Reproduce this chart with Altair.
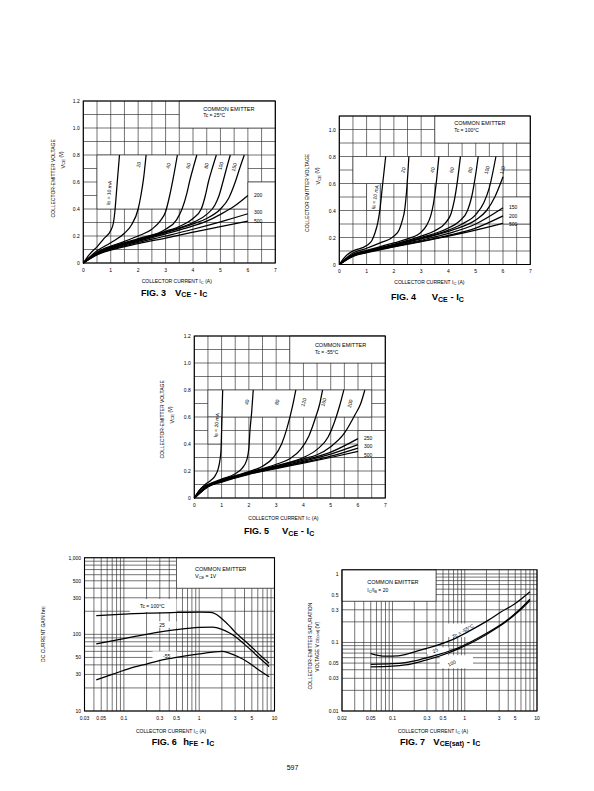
import altair as alt
import pandas as pd

FONT = "Liberation Sans"
GRID = "#2a2a2a"
GW = 0.65
LW = 1.25
NOS = "transparent"

# ---------------- FIG.3  VCE - IC  (Tc = 25 C) ----------------
F3_X = {
    "10": [0, 0.25, 0.5, 0.75, 1.0, 1.1, 1.15, 1.2, 1.25, 1.32],
    "20": [0, 0.5, 1.0, 1.5, 1.75, 2.0, 2.1, 2.2, 2.29],
    "40": [0, 0.5, 1.0, 1.5, 2.0, 2.5, 2.8, 3.0, 3.15, 3.28, 3.43],
    "60": [0, 0.5, 1.0, 2.0, 3.0, 3.4, 3.6, 3.78, 3.87, 4.0, 4.14],
    "80": [0, 0.5, 1.0, 2.0, 3.0, 3.6, 4.0, 4.3, 4.45, 4.56, 4.7, 4.85],
    "100": [0, 0.5, 1.0, 2.0, 3.0, 4.0, 4.5, 4.8, 4.95, 5.09, 5.22, 5.36],
    "150": [0, 0.5, 1.0, 2.0, 3.0, 4.0, 4.5, 5.0, 5.3, 5.54, 5.7, 5.87],
    "200": [0, 0.5, 1.0, 2.0, 3.0, 4.0, 4.5, 5.0, 5.5, 6.0],
    "300": [0, 0.5, 1.0, 2.0, 3.0, 4.0, 5.0, 6.0],
    "500": [0, 0.5, 1.0, 2.0, 3.0, 4.0, 5.0, 6.0],
}
F3_Y = {
    "10": [0, 0.07, 0.12, 0.18, 0.24, 0.3, 0.38, 0.5, 0.63, 0.8],
    "20": [0, 0.09, 0.15, 0.22, 0.28, 0.4, 0.5, 0.63, 0.8],
    "40": [0, 0.08, 0.125, 0.16, 0.2, 0.25, 0.31, 0.38, 0.5, 0.63, 0.8],
    "60": [0, 0.075, 0.118, 0.18, 0.25, 0.32, 0.4, 0.52, 0.6, 0.7, 0.8],
    "80": [0, 0.072, 0.113, 0.175, 0.235, 0.28, 0.33, 0.4, 0.5, 0.6, 0.7, 0.8],
    "100": [0, 0.07, 0.11, 0.17, 0.23, 0.3, 0.36, 0.43, 0.5, 0.6, 0.7, 0.8],
    "150": [0, 0.068, 0.108, 0.165, 0.225, 0.29, 0.33, 0.4, 0.48, 0.6, 0.7, 0.8],
    "200": [0, 0.066, 0.105, 0.16, 0.215, 0.275, 0.31, 0.36, 0.42, 0.5],
    "300": [0, 0.063, 0.1, 0.152, 0.2, 0.25, 0.305, 0.365],
    "500": [0, 0.06, 0.095, 0.143, 0.185, 0.228, 0.27, 0.31],
}
F3_TOP_T = ["20", "40", "60", "80", "100", "150"]
F3_TOP_X = [2.01, 3.09, 3.82, 4.48, 5.0, 5.49]
F3_TOP_Y = [0.73, 0.72, 0.72, 0.72, 0.72, 0.71]
F3_RIGHT_T = ["200", "300", "500"]
F3_RIGHT_Y = [0.505, 0.377, 0.313]

# ---------------- FIG.4  VCE - IC  (Tc = 100 C) ----------------
F4_X = {
    "10": [0, 0.25, 0.5, 1.0, 1.2, 1.31, 1.42, 1.49, 1.58, 1.7],
    "20": [0, 0.5, 1.0, 1.5, 2.0, 2.2, 2.3, 2.4, 2.48, 2.55],
    "40": [0, 0.5, 1.0, 2.0, 2.5, 3.0, 3.2, 3.35, 3.45, 3.55, 3.65],
    "60": [0, 0.5, 1.0, 2.0, 3.0, 3.5, 3.9, 4.1, 4.22, 4.33, 4.44],
    "80": [0, 0.5, 1.0, 2.0, 3.0, 4.0, 4.4, 4.7, 4.85, 4.97, 5.09],
    "100": [0, 0.5, 1.0, 2.0, 3.0, 4.0, 4.5, 5.0, 5.3, 5.5, 5.74],
    "120": [0, 0.5, 1.0, 2.0, 3.0, 4.0, 4.5, 5.0, 5.4, 5.7, 6.0],
    "150": [0, 0.5, 1.0, 2.0, 3.0, 4.0, 5.0, 6.0],
    "200": [0, 0.5, 1.0, 2.0, 3.0, 4.0, 5.0, 6.0],
    "500": [0, 0.5, 1.0, 2.0, 3.0, 4.0, 5.0, 6.0],
}
F4_Y = {
    "10": [0, 0.065, 0.1, 0.14, 0.18, 0.235, 0.32, 0.41, 0.58, 0.8],
    "20": [0, 0.085, 0.12, 0.16, 0.21, 0.26, 0.32, 0.41, 0.58, 0.8],
    "40": [0, 0.075, 0.105, 0.16, 0.19, 0.24, 0.29, 0.36, 0.45, 0.6, 0.8],
    "60": [0, 0.072, 0.1, 0.15, 0.21, 0.25, 0.31, 0.38, 0.48, 0.62, 0.8],
    "80": [0, 0.07, 0.098, 0.148, 0.2, 0.27, 0.32, 0.4, 0.5, 0.63, 0.8],
    "100": [0, 0.068, 0.096, 0.145, 0.195, 0.255, 0.3, 0.37, 0.46, 0.57, 0.8],
    "120": [0, 0.066, 0.094, 0.142, 0.19, 0.245, 0.28, 0.33, 0.4, 0.5, 0.65],
    "150": [0, 0.064, 0.092, 0.138, 0.18, 0.23, 0.3, 0.42],
    "200": [0, 0.062, 0.09, 0.133, 0.172, 0.215, 0.27, 0.36],
    "500": [0, 0.06, 0.087, 0.13, 0.17, 0.21, 0.255, 0.305],
}
F4_TOP_T = ["20", "40", "60", "80", "100", "120"]
F4_TOP_X = [2.34, 3.41, 4.11, 4.79, 5.4, 5.97]
F4_TOP_Y = [0.7, 0.7, 0.7, 0.7, 0.7, 0.7]
F4_RIGHT_T = ["150", "200", "500"]
F4_RIGHT_Y = [0.425, 0.36, 0.3]

# ---------------- FIG.5  VCE - IC  (Tc = -55 C) ----------------
F5_X = {
    "20": [0, 0.2, 0.4, 0.6, 0.75, 0.88, 0.94, 0.98, 1.0, 1.02, 1.04],
    "40": [0, 0.25, 0.5, 1.0, 1.5, 1.75, 1.92, 2.0, 2.04, 2.1, 2.16],
    "80": [0, 0.25, 0.5, 1.0, 2.0, 2.5, 2.9, 3.2, 3.4, 3.6, 3.72],
    "120": [0, 0.5, 1.0, 2.0, 3.0, 3.5, 3.9, 4.2, 4.45, 4.6, 4.7],
    "160": [0, 0.5, 1.0, 2.0, 3.0, 4.0, 4.5, 4.9, 5.2, 5.35, 5.48],
    "200": [0, 0.5, 1.0, 2.0, 3.0, 4.0, 4.5, 5.0, 5.5, 5.9, 6.1, 6.25],
    "250": [0, 0.5, 1.0, 2.0, 3.0, 4.0, 5.0, 6.0],
    "300": [0, 0.5, 1.0, 2.0, 3.0, 4.0, 5.0, 6.0],
    "400": [0, 0.5, 1.0, 2.0, 3.0, 4.0, 5.0, 6.0],
    "500": [0, 0.5, 1.0, 2.0, 3.0, 4.0, 5.0, 6.0],
}
F5_Y = {
    "20": [0, 0.06, 0.1, 0.13, 0.16, 0.22, 0.28, 0.36, 0.5, 0.65, 0.8],
    "40": [0, 0.07, 0.1, 0.14, 0.18, 0.22, 0.28, 0.37, 0.5, 0.63, 0.8],
    "80": [0, 0.065, 0.095, 0.135, 0.195, 0.235, 0.3, 0.4, 0.52, 0.68, 0.8],
    "120": [0, 0.092, 0.13, 0.19, 0.25, 0.29, 0.36, 0.46, 0.6, 0.7, 0.8],
    "160": [0, 0.09, 0.128, 0.187, 0.24, 0.3, 0.36, 0.45, 0.6, 0.7, 0.8],
    "200": [0, 0.088, 0.126, 0.185, 0.235, 0.29, 0.32, 0.38, 0.48, 0.62, 0.7, 0.8],
    "250": [0, 0.086, 0.124, 0.182, 0.23, 0.28, 0.34, 0.44],
    "300": [0, 0.085, 0.122, 0.18, 0.226, 0.272, 0.325, 0.395],
    "400": [0, 0.084, 0.12, 0.178, 0.222, 0.265, 0.31, 0.37],
    "500": [0, 0.083, 0.118, 0.175, 0.218, 0.258, 0.3, 0.345],
}
F5_TOP_T = ["40", "80", "120", "160", "200"]
F5_TOP_X = [1.92, 3.02, 4.0, 4.73, 5.7]
F5_TOP_Y = [0.71, 0.71, 0.71, 0.71, 0.7]
F5_RIGHT_T = ["250", "300", "500"]
F5_RIGHT_Y = [0.444, 0.387, 0.32]

# ---------------- FIG.6  hFE - IC ----------------
F6_X = {
    "100": [0.043, 0.1, 0.2, 0.5, 1.0, 1.4, 1.7, 2.0, 2.5, 3.0, 4.0, 5.0, 6.5, 8.5],
    "25": [0.043, 0.1, 0.2, 0.5, 1.0, 1.5, 2.0, 2.5, 3.0, 4.0, 5.0, 6.5, 8.5],
    "-55": [0.043, 0.07, 0.12, 0.2, 0.35, 0.6, 1.0, 1.5, 2.0, 2.5, 3.3, 4.5, 6.0, 8.5],
}
F6_Y = {
    "100": [175, 183, 189, 193, 195, 194, 182, 160, 130, 107, 83, 68, 53, 42],
    "25": [75, 88, 100, 115, 123, 124, 116, 105, 94, 74, 61, 48, 38],
    "-55": [25.5, 30, 36, 41, 47, 51.5, 55.5, 58.5, 60, 57, 51, 43, 35, 28],
}

# ---------------- FIG.7  VCE(sat) - IC ----------------
F7_X = {
    "-55": [0.05, 0.08, 0.12, 0.25, 0.4, 0.74, 1.2, 2.1, 3.2, 5.0, 8.0],
    "25": [0.05, 0.1, 0.15, 0.25, 0.44, 0.8, 1.26, 2.0, 3.6, 5.5, 8.0],
    "100": [0.05, 0.1, 0.15, 0.25, 0.44, 0.8, 1.26, 2.0, 3.6, 5.5, 8.0],
}
F7_Y = {
    "-55": [0.069, 0.063, 0.064, 0.078, 0.09, 0.115, 0.15, 0.21, 0.28, 0.37, 0.55],
    "25": [0.048, 0.049, 0.051, 0.057, 0.067, 0.083, 0.104, 0.136, 0.2, 0.29, 0.43],
    "100": [0.044, 0.045, 0.047, 0.053, 0.063, 0.08, 0.1, 0.131, 0.195, 0.28, 0.41],
}

# ---------------- grid values and tick labels ----------------
LIN_XGRID = [i * 0.5 for i in range(15)]
LIN_XT = ["0", "1", "2", "3", "4", "5", "6", "7"]
LIN_YT12 = ["0", "0.2", "0.4", "0.6", "0.8", "1.0", "1.2"]
LIN_YT11 = ["0", "0.2", "0.4", "0.6", "0.8", "1.0"]
F6_XGRID = [round(m * 10 ** e, 6) for e in (-2, -1, 0) for m in range(1, 10) if m * 10 ** e >= 0.0299] + [10]
F6_YGRID = [m * 10 ** e for e in (1, 2) for m in range(1, 10)] + [1000]
F6_XT = ["0.03", "0.05", "0.1", "0.3", "0.5", "1", "3", "5", "10"]
F6_YT = ["10", "30", "50", "100", "300", "500", "1,000"]
F7_XGRID = [round(m * 10 ** e, 6) for e in (-2, -1, 0) for m in range(1, 10) if m * 10 ** e >= 0.0199] + [10]
F7_YGRID = [round(m * 10 ** e, 6) for e in (-2, -1) for m in range(1, 10)] + [1]
F7_XT = ["0.02", "0.05", "0.1", "0.3", "0.5", "1", "3", "5", "10"]
F7_YT = ["0.01", "0.03", "0.05", "0.1", "0.3", "0.5", "1"]

# ---------------- helpers ----------------
W = dict.fromkeys("0123456789", 0.556)
W.update({" ": 0.278, ".": 0.278, ",": 0.278, "-": 0.333, "=": 0.584, "(": 0.333, ")": 0.333,
          "°": 0.4, "/": 0.278, "A": 0.667, "B": 0.667, "C": 0.722, "D": 0.722, "E": 0.667,
          "F": 0.611, "G": 0.778, "H": 0.722, "I": 0.278, "L": 0.556, "M": 0.833, "N": 0.722,
          "O": 0.778, "R": 0.722, "S": 0.667, "T": 0.611, "U": 0.722, "V": 0.667,
          "a": 0.556, "c": 0.5, "e": 0.556, "h": 0.556, "m": 0.833, "s": 0.5, "t": 0.278})
WB = {"h": 0.611, "t": 0.333, "s": 0.556}


def tw(s, size, bold=False):
    tot = 0.0
    for ch in s:
        w = W.get(ch, 0.6)
        if bold:
            w = WB.get(ch, w)
        tot += w
    return tot * size


def layout_pieces(pieces, align, bold):
    """Return (text, size, dx, dy) with leading blanks turned into offsets (SVG drops them)."""
    total = sum(tw(t, s, bold) for t, s, dy in pieces)
    off = 0.0 if align == "left" else -total / 2
    out = []
    for t, s, dy in pieces:
        lead = len(t) - len(t.lstrip(" "))
        off += tw(" " * lead, s, bold)
        body = t.lstrip(" ")
        out.append((body, s, round(off, 2), dy))
        off += tw(body, s, bold)
    return out


ONE = alt.Data(values=[{"k": 1}])


class Panel:
    """One figure: its own x/y scales mapped onto a pixel box of the page."""

    def __init__(self, xdom, ydom, ox, oy, w, h, log=False):
        t = "log" if log else "linear"
        self.xmin, self.xmax = xdom
        self.ymin, self.ymax = ydom
        self.ox, self.oy = ox, oy
        self.XS = alt.Scale(type=t, domain=list(xdom), range=[ox, ox + w], nice=False, zero=False)
        self.YS = alt.Scale(type=t, domain=list(ydom), range=[oy + h, oy], nice=False, zero=False)
        self.L = []

    def x(self, f):
        return alt.X(f, scale=self.XS, axis=None)

    def y(self, f):
        return alt.Y(f, scale=self.YS, axis=None)

    def xd(self, v):
        return alt.XDatum(datum=v, type="quantitative", scale=self.XS, axis=None)

    def yd(self, v):
        return alt.YDatum(datum=v, type="quantitative", scale=self.YS, axis=None)

    def grid(self, xg, yg):
        self.L.append(alt.Chart(pd.DataFrame({"v": xg})).mark_rule(color=GRID, strokeWidth=GW).encode(
            x=self.x("v:Q"), y=self.yd(self.ymin), y2=alt.Y2Datum(datum=self.ymax)))
        self.L.append(alt.Chart(pd.DataFrame({"v": yg})).mark_rule(color=GRID, strokeWidth=GW).encode(
            y=self.y("v:Q"), x=self.xd(self.xmin), x2=alt.X2Datum(datum=self.xmax)))

    def masks(self, boxes):
        df = pd.DataFrame(boxes, columns=["x0", "x1", "y0", "y1", "st"])
        self.L.append(alt.Chart(df).mark_rect(fill="white", strokeWidth=GW).encode(
            x=self.x("x0:Q"), x2="x1:Q", y=self.y("y0:Q"), y2="y1:Q",
            stroke=alt.Stroke("st:N", scale=None)))

    def curves(self, xd, yd):
        rows = []
        for k in xd:
            for xv, yv in zip(xd[k], yd[k]):
                rows.append({"s": k, "x": xv, "y": yv})
        self.L.append(alt.Chart(pd.DataFrame(rows)).mark_line(
            color="black", strokeWidth=LW, interpolate="monotone"
        ).encode(x=self.x("x:Q"), y=self.y("y:Q"), detail="s:N"))

    def frame(self):
        self.L.append(alt.Chart(ONE).mark_rect(fillOpacity=0, stroke="black", strokeWidth=1.1).encode(
            x=self.xd(self.xmin), x2=alt.X2Datum(datum=self.xmax),
            y=self.yd(self.ymin), y2=alt.Y2Datum(datum=self.ymax)))

    def ticks(self, xt, yt):
        dfx = pd.DataFrame({"v": [float(t.replace(",", "")) for t in xt], "t": xt})
        dfy = pd.DataFrame({"v": [float(t.replace(",", "")) for t in yt], "t": yt})
        self.L.append(alt.Chart(dfx).mark_text(font=FONT, fontSize=5, align="center", baseline="middle",
                                               dy=6.5, color="black").encode(
            x=self.x("v:Q"), y=self.yd(self.ymin), text="t:N"))
        self.L.append(alt.Chart(dfy).mark_text(font=FONT, fontSize=5, align="right", baseline="middle",
                                               dx=-3.5, color="black").encode(
            y=self.y("v:Q"), x=self.xd(self.xmin), text="t:N"))

    def labels(self, texts, xs, ys, angle=0, align="center", size=5):
        df = pd.DataFrame({"x": xs, "y": ys, "t": texts})
        self.L.append(alt.Chart(df).mark_text(font=FONT, fontSize=size, angle=angle, align=align,
                                              baseline="middle", color="black").encode(
            x=self.x("x:Q"), y=self.y("y:Q"), text="t:N"))

    def dtext(self, pieces, xv, yv, angle=0, align="left", bold=False):
        df = pd.DataFrame({"x": [xv], "y": [yv]})
        for t, s, dx, dy in layout_pieces(pieces, align, bold):
            self.L.append(alt.Chart(df).mark_text(
                text=t, font=FONT, fontSize=s, fontWeight=("bold" if bold else "normal"),
                align="left", baseline="middle", angle=angle, dx=dx, dy=dy, color="black"
            ).encode(x=self.x("x:Q"), y=self.y("y:Q")))

    def ptext(self, pieces, rx, ry, angle=0, align="left", bold=False):
        # text outside the plot, placed relative to the plot's top-left corner
        for t, s, dx, dy in layout_pieces(pieces, align, bold):
            self.L.append(alt.Chart(ONE).mark_text(
                text=t, font=FONT, fontSize=s, fontWeight=("bold" if bold else "normal"),
                align="left", baseline="middle", angle=angle, dx=dx, dy=dy, color="black"
            ).encode(x=alt.value(self.ox + rx), y=alt.value(self.oy + ry)))

    def caption(self, fig, sym, rx, ry, sx):
        self.ptext([("FIG. " + fig, 9, 0)], rx, ry, bold=True)
        self.ptext(sym, sx, ry, bold=True)

    def chart(self):
        return alt.layer(*self.L)


VCE_SYM = [("V", 9.5, 0), ("CE", 7, 2.5), (" - I", 9.5, 0), ("C", 7, 2.5)]
XTITLE = [("COLLECTOR CURRENT I", 5, 0), ("C", 4, 1.5), (" (A)", 5, 0)]
VCE_V = [("V", 5.5, 0), ("CE", 4.2, 1.5), (" (V)", 4.5, -0.5)]


def vce_panel(ytop, origin, size, xd, yd, boxes, top, right, ib_text, ib_pos, ib_angle, tc,
              box_pos, ytitle, ytitle_pos, v_pos, xt_pos, fig, cap_pos, yt):
    P = Panel((0, 7), (0, ytop), origin[0], origin[1], size[0], size[1])
    P.grid(LIN_XGRID, [round(i * 0.1, 1) for i in range(int(round(ytop * 10)) + 1)])
    P.masks(boxes)
    P.curves(xd, yd)
    P.frame()
    P.ticks(LIN_XT, yt)
    P.labels(top[0], top[1], top[2], angle=285)
    P.labels(right[0], [6.22] * len(right[0]), right[1], align="left")
    P.dtext([("I", 5, 0), ("B", 4, 1.5), (" = " + ib_text, 5, 0)], ib_pos[0], ib_pos[1],
            angle=ib_angle, align="center")
    P.dtext([("COMMON EMITTER", 5.5, 0)], box_pos[0], box_pos[1])
    P.dtext([(tc, 5, 0)], box_pos[0], box_pos[2])
    P.ptext([(ytitle, 5, 0)], ytitle_pos[0], ytitle_pos[1], angle=270, align="center")
    P.ptext(VCE_V, v_pos[0], v_pos[1], angle=270, align="center")
    P.ptext(XTITLE, xt_pos[0], xt_pos[1])
    P.caption(fig, VCE_SYM, cap_pos[0], cap_pos[1], cap_pos[2])
    return P.chart()


# Page coordinates minus the 8px body margin give the view coordinates used below.
fig3 = vce_panel(
    1.2, (75.3, 93), (192, 162), F3_X, F3_Y,
    [(3.5, 7, 1.0, 1.2, GRID), (0.5, 6.0, 0.4, 0.8, GRID), (6.0, 7.0, 0.3, 0.6, GRID)],
    (F3_TOP_T, F3_TOP_X, F3_TOP_Y), (F3_RIGHT_T, F3_RIGHT_Y),
    "10 mA", (0.93, 0.52), 275, "Tc = 25°C", (4.37, 1.14, 1.095),
    "COLLECTOR-EMITTER VOLTAGE", (-30.6, 77), (-20.8, 59), (58.4, 180.3),
    "3", (57.7, 191.5, 91.7), LIN_YT12)

fig4 = vce_panel(
    1.1, (331.3, 108), (191, 148.5), F4_X, F4_Y,
    [(3.5, 7, 0.9, 1.1, GRID), (0.5, 6.0, 0.6, 0.8, GRID), (1.0, 1.5, 0.4, 0.6, GRID),
     (6.0, 7.0, 0.3, 0.5, GRID)],
    (F4_TOP_T, F4_TOP_X, F4_TOP_Y), (F4_RIGHT_T, F4_RIGHT_Y),
    "10 mA", (1.3, 0.5), 280, "Tc = 100°C", (4.21, 1.045, 1.0),
    "COLLECTOR EMITTER VOLTAGE", (-32.6, 76.5), (-21, 60), (55, 166.3),
    "4", (51.7, 181.3, 92.4), LIN_YT11)

fig5 = vce_panel(
    1.2, (186.3, 328), (191, 162), F5_X, F5_Y,
    [(3.5, 7, 1.0, 1.2, GRID), (0.5, 6.5, 0.6, 0.8, GRID), (0.5, 1.0, 0.4, 0.6, GRID),
     (6.0, 7.0, 0.3, 0.5, GRID)],
    (F5_TOP_T, F5_TOP_X, F5_TOP_Y), (F5_RIGHT_T, F5_RIGHT_Y),
    "20 mA", (0.8, 0.54), 275, "Tc = -55°C", (4.42, 1.133, 1.084),
    "COLLECTOR-EMITTER VOLTAGE", (-32.6, 83), (-22.6, 79), (54, 181.7),
    "5", (49.7, 195, 87.7), LIN_YT12)

# ---- FIG 6 ----
P6 = Panel((0.03, 10), (10, 1000), 76.5, 549.7, 190, 153.3, log=True)
P6.grid(F6_XGRID, F6_YGRID)
P6.masks([(0.5, 10, 400, 1000, GRID), (0.12, 0.5, 195, 290, NOS),
          (0.22, 0.5, 122, 148, NOS), (0.24, 0.5, 47, 60, NOS)])
P6.curves(F6_X, F6_Y)
P6.frame()
P6.ticks(F6_XT, F6_YT)
P6.dtext([("Tc = 100°C", 5, 0)], 0.24, 231, align="center")
P6.dtext([("25", 5, 0)], 0.32, 133, align="center")
P6.dtext([("-55", 5, 0)], 0.37, 52, align="center")
P6.dtext([("COMMON EMITTER", 5.5, 0)], 0.88, 718)
P6.dtext([("V", 5.5, 0), ("CE", 4, 1.5), (" = 1V", 5, 0)], 0.88, 570)
P6.ptext([("DC CURRENT GAIN h", 5, 0), ("FE", 4, 1.5)], -41.8, 76.3, angle=270, align="center")
P6.ptext(XTITLE, 51.5, 173.3)
P6.caption("6", [("h", 9.5, 0), ("FE", 7, 2.5), (" - I", 9.5, 0), ("C", 7, 2.5)], 67.2, 183.8, 98.8)
P6.ptext([("597", 7, 0)], 208, 210.3, align="center")
fig6 = P6.chart()

# ---- FIG 7 ----
P7 = Panel((0.02, 10), (0.01, 1.15), 334, 561.8, 195, 141.2, log=True)
P7.grid(F7_XGRID, F7_YGRID)
P7.masks([(0.02, 0.4, 0.4, 1.15, GRID), (0.55, 1.5, 0.12, 0.19, NOS),
          (0.3, 0.6, 0.068, 0.085, NOS), (0.45, 1.3, 0.042, 0.065, NOS)])
P7.curves(F7_X, F7_Y)
P7.frame()
P7.ticks(F7_XT, F7_YT)
P7.dtext([("Tc = -55°C", 5, 0)], 0.95, 0.148, angle=331, align="center")
P7.dtext([("25", 5, 0)], 0.39, 0.077, angle=335, align="center")
P7.dtext([("100", 5, 0)], 0.66, 0.05, angle=335, align="center")
P7.dtext([("COMMON EMITTER", 5.5, 0)], 0.0447, 0.766)
P7.dtext([("I", 5, 0), ("C", 4, 1.5), ("/I", 5, 0), ("B", 4, 1.5), (" = 20", 5, 0)], 0.0447, 0.58)
P7.ptext([("COLLECTOR-EMITTER SATURATION", 5, 0)], -32, 75.9, angle=270, align="center")
P7.ptext([("VOLTAGE V", 5, 0), ("CE(sat)", 4, 1.5), (" (V)", 5, 0)], -25.3, 76.9, angle=270, align="center")
P7.ptext(XTITLE, 56, 161.2)
P7.caption("7", [("V", 9.5, 0), ("CE(sat)", 7, 2.5), (" - I", 9.5, 0), ("C", 7, 2.5)], 58, 171.7, 91.3)
fig7 = P7.chart()

chart = alt.layer(fig3, fig4, fig5, fig6, fig7).resolve_scale(
    x="independent", y="independent"
).properties(
    width=578, height=775, padding=0, background="white"
).configure_view(stroke="transparent")

chart.save("out.html", embed_options={"renderer": "svg", "actions": False})
